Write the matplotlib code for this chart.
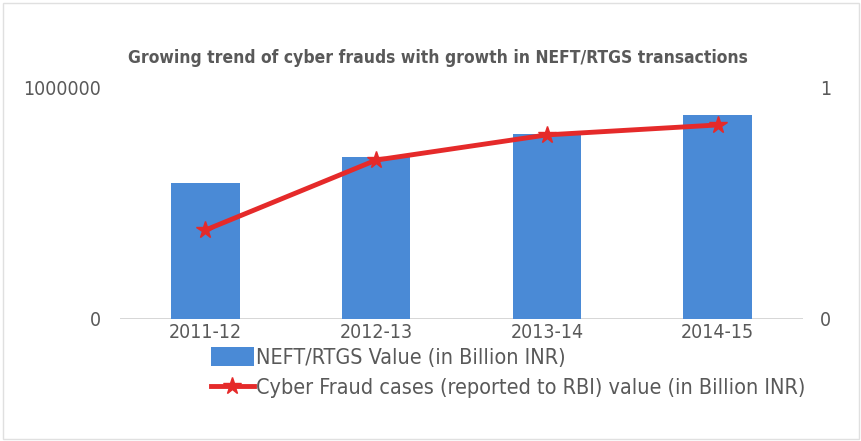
import matplotlib.pyplot as plt
import numpy as np

# --- DATA ---
YEARS = ["2011-12", "2012-13", "2013-14", "2014-15"]
NEFT_RTGS = [589000, 701000, 800000, 883000]
CYBER_FRAUD = [0.385, 0.688, 0.797, 0.84]

BAR_LABEL = "NEFT/RTGS Value (in Billion INR)"
LINE_LABEL = "Cyber Fraud cases (reported to RBI) value (in Billion INR)"
TITLE = "Growing trend of cyber frauds with growth in NEFT/RTGS transactions"

GREY = "#595959"


def main():
    plt.rcParams['font.family'] = ["DejaVu Sans"]
    plt.rcParams['font.stretch'] = "condensed"

    fig = plt.figure(figsize=(8.62, 4.41), dpi=100)
    ax = fig.add_axes([120 / 862, 1 - 319 / 441, 683 / 862, 231 / 441])
    ax2 = ax.twinx()

    x = np.arange(len(YEARS))
    bars = ax.bar(x, NEFT_RTGS, width=0.4, color="#4a8ad6", zorder=2,
                  label=BAR_LABEL)
    line, = ax2.plot(x, CYBER_FRAUD, color="#e52a2a", linewidth=3.5,
                     marker="*", markersize=13, zorder=3, label=LINE_LABEL)
    ax2.set_zorder(ax.get_zorder() + 1)
    ax2.patch.set_visible(False)

    ax.set_xlim(-0.5, len(YEARS) - 0.5)
    ax.set_ylim(0, 1000000)
    ax2.set_ylim(0, 1)
    ax.set_yticks([0, 1000000])
    ax.set_yticklabels(["0", "1000000"])
    ax2.set_yticks([0, 1])
    ax2.set_yticklabels(["0", "1"])
    ax.set_xticks(x)
    ax.set_xticklabels(YEARS)

    for a in (ax, ax2):
        for s in a.spines.values():
            s.set_visible(False)
        a.tick_params(length=0, colors=GREY, labelsize=14)
    ax.tick_params(axis="y", pad=14)
    ax2.tick_params(axis="y", pad=12)
    ax.tick_params(axis="x", pad=3)
    ax.axhline(0, color="#cfcfcf", linewidth=1.2, zorder=1)

    fig.text(0.5 * (130 + 745) / 862, 1 - 58 / 441, TITLE, ha="center",
             va="center", fontsize=12.5, fontweight="bold", color=GREY)

    leg = fig.legend([bars, line], [BAR_LABEL, LINE_LABEL],
                     loc="upper left", bbox_to_anchor=(200 / 862, 1 - 336 / 441),
                     frameon=False, fontsize=15.5, handlelength=2.0,
                     handleheight=1.0, handletextpad=0.1, labelspacing=0.45,
                     borderpad=0)
    for t in leg.get_texts():
        t.set_color(GREY)

    # faint frame around the chart
    fig.patches.append(plt.Rectangle((0.003, 0.004), 0.994, 0.99,
                                     transform=fig.transFigure, fill=False,
                                     edgecolor="#e0e0e0", linewidth=1))

    fig.savefig("out.png", dpi=100)
    plt.close(fig)


if __name__ == '__main__':
    main()
